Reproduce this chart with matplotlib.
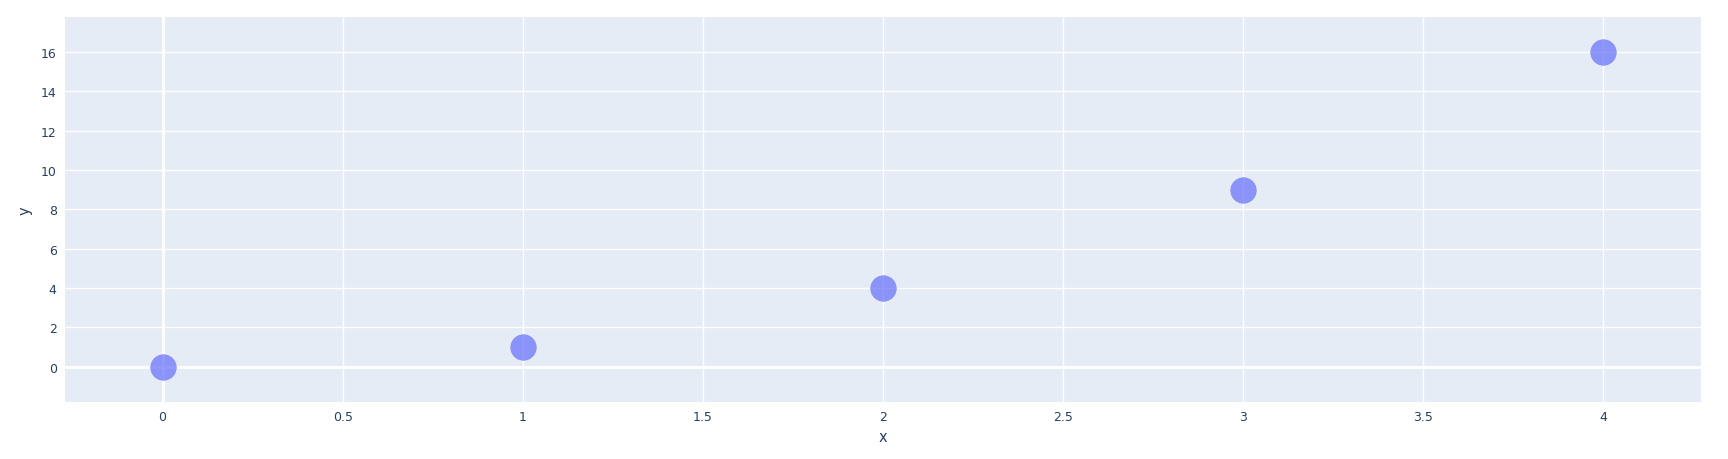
import matplotlib
matplotlib.use("Agg")
import matplotlib.pyplot as plt

x_vals = [0, 1, 2, 3, 4]
y_vals = [0, 1, 4, 9, 16]
x_ticks = [0, 0.5, 1, 1.5, 2, 2.5, 3, 3.5, 4]
y_ticks = [0, 2, 4, 6, 8, 10, 12, 14, 16]

W, H = 1728, 460
fig = plt.figure(figsize=(W / 100, H / 100), dpi=100)
L, R, T, B = 65, 1701, 18, 403
ax = fig.add_axes([L / W, 1 - B / H, (R - L) / W, (B - T) / H])
ax.set_facecolor("#e5ecf6")
for s in ax.spines.values():
    s.set_visible(False)

ax.set_xlim(-0.271, 4.271)
ax.set_ylim(-1.79, 17.78)
ax.set_xticks(x_ticks)
ax.set_yticks(y_ticks)
ax.set_xticklabels([f"{v:g}" for v in x_ticks])
ax.set_yticklabels([f"{v:g}" for v in y_ticks])
ax.grid(True, color="white", linewidth=1)
ax.set_axisbelow(True)
ax.axhline(0, color="white", linewidth=2, zorder=1)
ax.axvline(0, color="white", linewidth=2, zorder=1)
ax.tick_params(length=0, labelsize=9, labelcolor="#2a3f5f", pad=6)

ax.scatter(x_vals, y_vals, s=380, color="#636efa", alpha=0.7,
           edgecolors="white", linewidths=0.5, zorder=3)

ax.set_xlabel("x", fontsize=10.5, color="#2a3f5f", labelpad=4)
ax.set_ylabel("y", fontsize=10.5, color="#2a3f5f", labelpad=6)

fig.savefig("out.png", dpi=100, facecolor="white")
